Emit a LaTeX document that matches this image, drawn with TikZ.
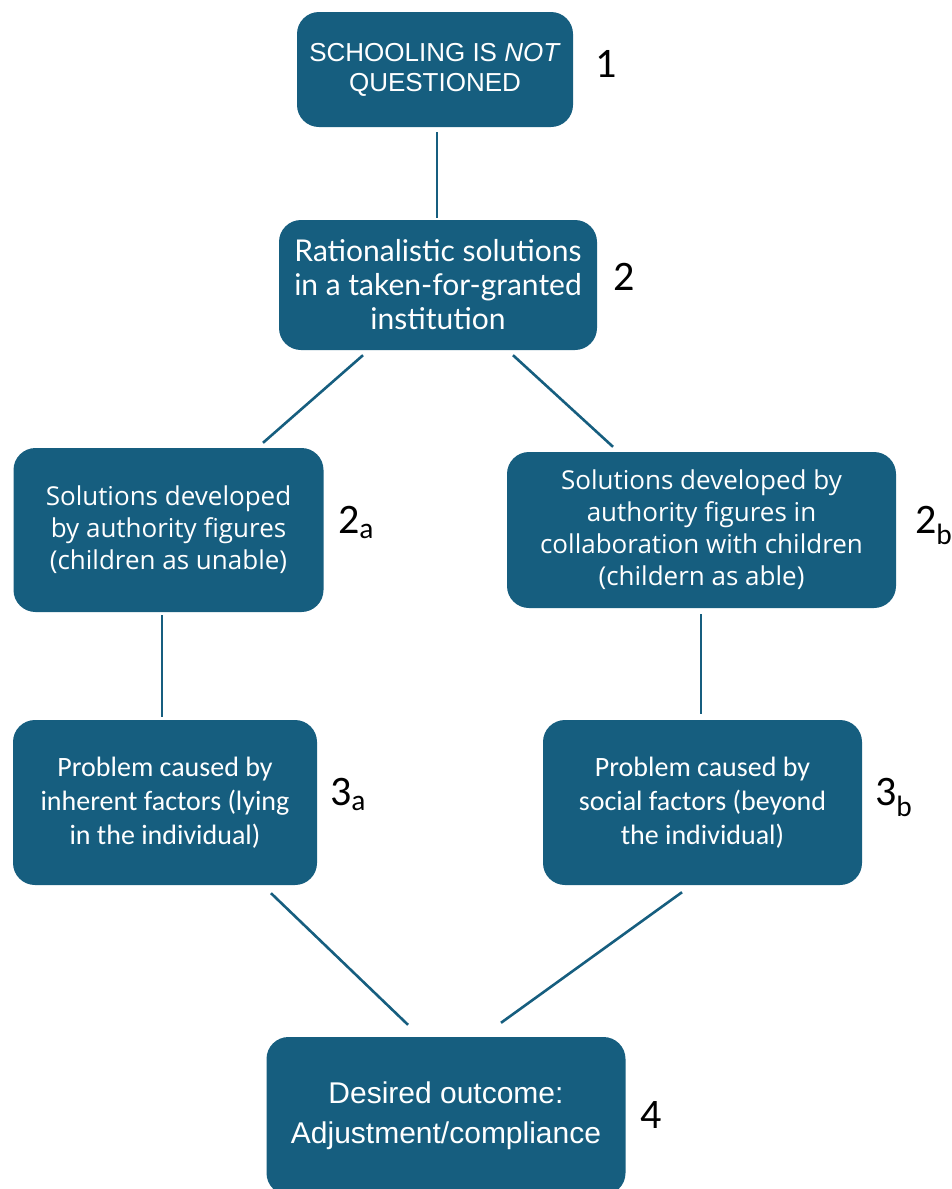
\documentclass[tikz,border=0pt]{standalone}
\usepackage{fontspec}
\setmainfont{Carlito}
\newfontfamily\arialfont{Liberation Sans}
\newfontfamily\latofont{Lato}
\newfontfamily\opensfont{Open Sans}
\usetikzlibrary{positioning}

\definecolor{boxblue}{RGB}{22,94,127}

\begin{document}
\begin{tikzpicture}[x=1pt, y=-1pt,
      box/.style = {shape=rectangle, rounded corners=22pt, fill=boxblue,
        text=white, align=center, inner sep=0pt},
      tag/.style = {anchor=base west, inner sep=0pt,
        font=\fontsize{42}{42}\selectfont},
      link/.style = {draw=boxblue, line width=2.6pt}]
  \clip (0,0) rectangle (952,1189);

  \node[box, minimum width=276, minimum height=115,
    font=\arialfont\fontsize{26}{30}\selectfont] (top) at (435,69.5)
    {SCHOOLING IS \textit{NOT}\\QUESTIONED};
  \node[box, minimum width=318, minimum height=130,
    font=\latofont\fontsize{30}{34}\selectfont] (rational) at (438,285)
    {Rationalistic solutions\\in a taken-for-granted\\institution};
  \node[box, minimum width=310, minimum height=164,
    font=\opensfont\fontsize{26}{32}\selectfont] (byadult) at (168.5,530)
    {Solutions developed\\by authority figures\\(children as unable)};
  \node[box, minimum width=389, minimum height=156,
    font=\opensfont\fontsize{26}{32}\selectfont] (withkids) at (701.5,530)
    {Solutions developed by\\authority figures in\\collaboration with children\\(childern as able)};
  \node[box, minimum width=304, minimum height=165,
    font=\fontsize{28}{34}\selectfont] (inherent) at (165,802.5)
    {Problem caused by\\inherent factors (lying\\in the individual)};
  \node[box, minimum width=319, minimum height=165,
    font=\fontsize{28}{34}\selectfont] (social) at (702.5,802.5)
    {Problem caused by\\social factors (beyond\\the individual)};
  \node[box, minimum width=359, minimum height=158,
    font=\arialfont\fontsize{30}{40}\selectfont] (outcome) at (446,1116)
    {Desired outcome:\\Adjustment/compliance};

  % numbers beside the boxes
  \node[tag] (n1) at (595,77) {1};
  \node[tag] (n2) at (613,290) {2};
  \node[tag] (n2a) at (338,533) {2\textsubscript{a}};
  \node[tag] (n2b) at (915,533) {2\textsubscript{b}};
  \node[tag] (n3a) at (330,805) {3\textsubscript{a}};
  \node[tag] (n3b) at (875,805) {3\textsubscript{b}};
  \node[tag] (n4) at (640,1128) {4};

  \draw[link] ([xshift=2pt,yshift=-5pt]top.south) -- ([xshift=-1pt,yshift=2pt]rational.north);
  \draw[link] ([xshift=-75pt,yshift=-5pt]rational.south) -- ([xshift=94.5pt,yshift=5pt]byadult.north);
  \draw[link] ([xshift=75pt,yshift=-5pt]rational.south) -- ([xshift=-88.5pt,yshift=5pt]withkids.north);
  \draw[link] ([xshift=-6.5pt,yshift=-3pt]byadult.south) -- ([xshift=-3pt,yshift=3pt]inherent.north);
  \draw[link] ([xshift=-0.5pt,yshift=-6pt]withkids.south) -- ([xshift=-1.5pt,yshift=6pt]social.north);
  \draw[link] ([xshift=106pt,yshift=-8pt]inherent.south) -- ([xshift=-38pt,yshift=12pt]outcome.north);
  \draw[link] ([xshift=-20.5pt,yshift=-7pt]social.south) -- ([xshift=55pt,yshift=14pt]outcome.north);
\end{tikzpicture}
\end{document}
